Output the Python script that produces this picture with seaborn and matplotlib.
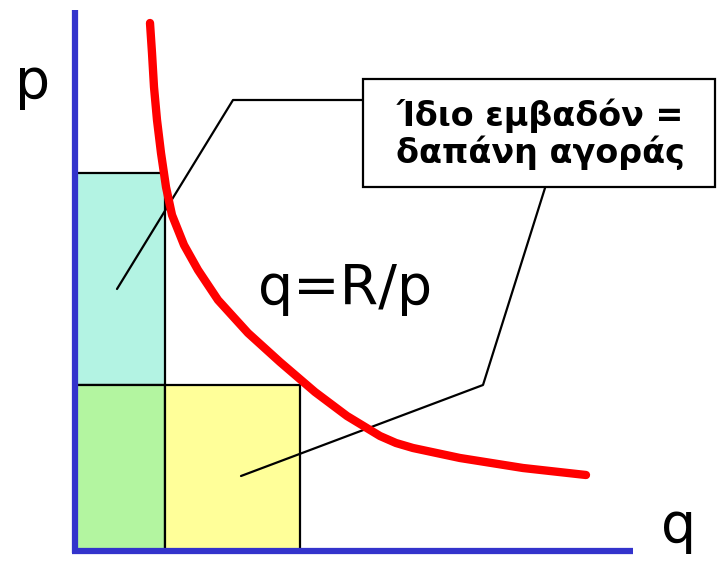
import numpy as np
import pandas as pd
import matplotlib
matplotlib.use("Agg")
import matplotlib.pyplot as plt
from matplotlib.patches import Rectangle
import seaborn as sns

# --- Data (q to the right, p upwards) ---
curve_q = [75, 77, 79, 82, 86, 91, 97, 109, 123, 143, 173, 205, 240, 272, 305, 321, 338, 385, 448, 511]
curve_p = [528, 498, 464, 431, 398, 364, 336, 306, 281, 251, 218, 189, 159, 135, 115, 108, 103, 93, 83, 76]

# rectangles: (q0, p0, width, height, colour)
rect_q0 = [0, 0, 90]
rect_p0 = [166, 0, 0]
rect_w = [90, 90, 135]
rect_h = [212, 166, 166]
rect_colors = ["#B3F3E3", "#B3F5A0", "#FFFF99"]

# leader lines from the note box to the two areas
leader1_q = [287, 158, 42]
leader1_p = [451, 451, 262]
leader2_q = [470, 408, 166]
leader2_p = [363, 166, 75]

note_text = "Ίδιο εμβαδόν =\nδαπάνη αγοράς"
curve_label = "q=R/p"

sns.set_theme(style="white")
plt.rcParams['font.family'] = ['DejaVu Sans']

fig = plt.figure(figsize=(7.17, 5.63), dpi=100)
ax = fig.add_axes([0, 0, 1, 1])
ax.set_xlim(-75, 642)
ax.set_ylim(-12, 551)
ax.axis("off")

# coloured areas
for q0, p0, w, h, c in zip(rect_q0, rect_p0, rect_w, rect_h, rect_colors):
    ax.add_patch(Rectangle((q0, p0), w, h, facecolor=c, edgecolor="black", lw=1.6, zorder=1))

# demand curve
curve = pd.DataFrame({"q": curve_q, "p": curve_p})
sns.lineplot(data=curve, x="q", y="p", sort=False, color="#FF0000", lw=6, ax=ax, zorder=4)

# leader lines
ax.plot(leader1_q, leader1_p, color="black", lw=1.6, zorder=3)
ax.plot(leader2_q, leader2_p, color="black", lw=1.6, zorder=3)

# axes
ax.plot([0, 0], [-2, 541], color="#3333CC", lw=4.5, solid_capstyle="butt", zorder=5)
ax.plot([-3, 558], [0, 0], color="#3333CC", lw=4.5, solid_capstyle="butt", zorder=5)

# note box
ax.add_patch(Rectangle((288, 364), 352, 108, facecolor="white", edgecolor="black", lw=1.6, zorder=6))
ax.text(465, 417, note_text, ha="center", va="center", fontsize=24, fontweight="bold",
        color="black", linespacing=1.1, zorder=7)

# labels
ax.text(270, 262, curve_label, ha="center", va="center", fontsize=40, color="black", zorder=7)
ax.text(-42, 468, "p", ha="center", va="center", fontsize=40, color="black")
ax.text(604, 24, "q", ha="center", va="center", fontsize=40, color="black")

fig.savefig("out.png", dpi=100)
